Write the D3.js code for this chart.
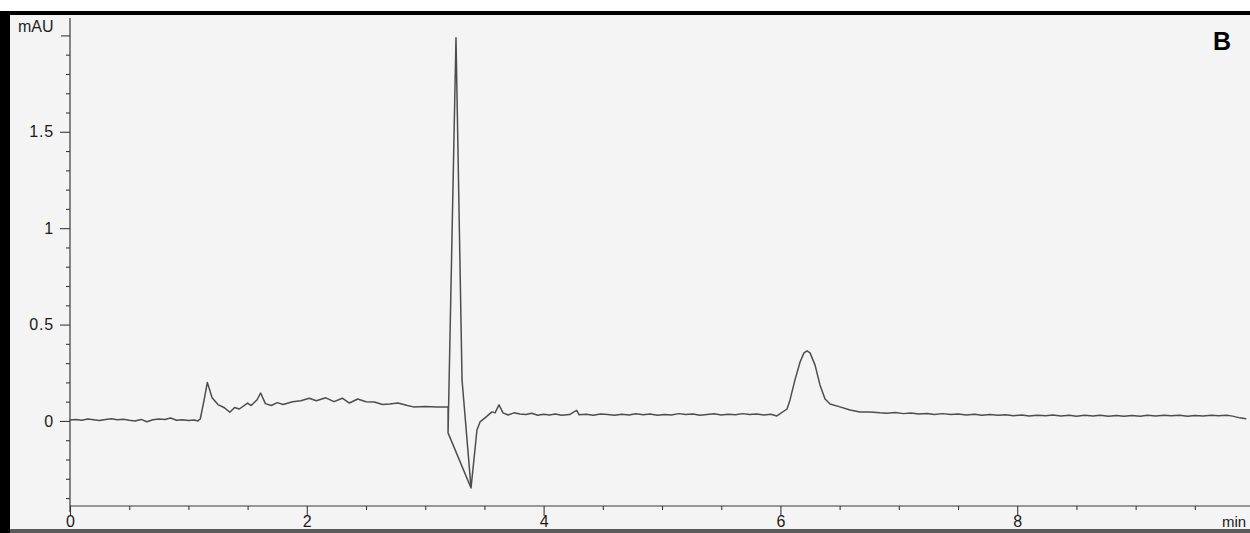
<!DOCTYPE html>
<html>
<head>
<meta charset="utf-8">
<script src="https://cdn.jsdelivr.net/npm/d3@7/dist/d3.min.js"></script>
<style>
  html, body { margin: 0; padding: 0; background: #ffffff; }
  svg { display: block; }
  text { font-family: "Liberation Sans", Arial, sans-serif; }
</style>
</head>
<body>
<svg id="chart" width="1250" height="533"></svg>
<script>
// ---- Data ----
const timeMin = [
  0.00,0.05,0.10,0.15,0.20,0.25,0.30,0.35,0.40,0.45,0.50,0.55,0.60,0.65,0.70,0.75,0.80,0.85,0.90,0.95,
  1.00,1.05,1.08,1.10,1.13,1.16,1.20,1.25,1.30,1.35,1.39,1.43,1.50,1.53,1.58,1.61,1.65,1.70,1.75,1.80,
  1.88,1.95,2.02,2.08,2.16,2.23,2.30,2.36,2.43,2.50,2.57,2.64,2.70,2.77,2.85,2.90,3.00,3.10,3.193,
  3.193,3.260,3.311,3.387,3.193,3.387,
  3.437,3.463,3.505,3.564,3.590,3.623,3.657,3.700,3.750,3.800,
  3.85,3.90,3.95,4.00,4.05,4.10,4.15,4.22,4.26,4.28,4.30,4.36,4.42,4.48,4.54,4.60,4.66,4.72,4.78,4.84,
  4.90,4.96,5.02,5.08,5.14,5.20,5.26,5.32,5.38,5.44,5.50,5.56,5.62,5.68,5.74,5.80,5.86,5.92,5.97,
  6.056,6.081,6.123,6.166,6.199,6.225,6.250,6.292,6.334,6.377,6.419,6.503,6.588,6.672,6.757,6.841,
  6.90,6.97,7.04,7.10,7.17,7.24,7.30,7.37,7.44,7.50,7.57,7.64,7.70,7.77,7.84,7.90,7.97,8.04,8.10,8.17,
  8.24,8.30,8.37,8.44,8.50,8.57,8.64,8.70,8.77,8.84,8.90,8.97,9.04,9.10,9.17,9.24,9.30,9.37,9.44,9.50,
  9.57,9.64,9.70,9.77,9.82,9.88,9.93
];
const absorbanceMAU = [
  0.005,0.008,0.004,0.010,0.006,0.002,0.008,0.011,0.006,0.009,0.004,0.000,0.008,-0.004,0.006,0.010,0.008,0.015,0.004,0.006,
  0.002,0.005,0.000,0.010,0.100,0.200,0.120,0.085,0.070,0.045,0.070,0.062,0.093,0.080,0.110,0.145,0.090,0.080,0.095,0.085,
  0.100,0.105,0.118,0.105,0.120,0.100,0.118,0.093,0.114,0.100,0.098,0.085,0.088,0.093,0.080,0.073,0.075,0.072,0.073,
  -0.062,1.988,0.213,-0.348,-0.062,-0.348,
  -0.047,-0.005,0.016,0.047,0.042,0.083,0.042,0.031,0.042,0.036,
  0.033,0.040,0.030,0.035,0.031,0.036,0.030,0.033,0.048,0.055,0.032,0.035,0.030,0.036,0.033,0.029,0.035,0.031,0.037,0.032,
  0.036,0.030,0.034,0.031,0.038,0.033,0.036,0.030,0.034,0.037,0.031,0.035,0.032,0.038,0.033,0.036,0.031,0.035,0.026,
  0.062,0.109,0.213,0.306,0.353,0.363,0.353,0.291,0.187,0.114,0.088,0.073,0.057,0.047,0.047,0.042,
  0.040,0.044,0.038,0.041,0.036,0.039,0.034,0.038,0.033,0.036,0.031,0.035,0.030,0.034,0.029,0.032,0.027,0.031,0.026,0.030,
  0.027,0.031,0.026,0.029,0.025,0.029,0.026,0.030,0.025,0.028,0.024,0.028,0.025,0.029,0.026,0.030,0.027,0.029,0.024,0.028,
  0.026,0.030,0.027,0.029,0.025,0.016,0.012
];
const xMajorTicks = [0, 2, 4, 6, 8];
const xMinorTicks = [0.5,1,1.5,2.5,3,3.5,4.5,5,5.5,6.5,7,7.5,8.5,9,9.5];
const yLabelTicks = [0, 0.5, 1, 1.5];
const yMajorUnlabeled = [2];
const yMinorTicks = [-0.4,-0.3,-0.2,-0.1,0.1,0.2,0.3,0.4,0.6,0.7,0.8,0.9,1.1,1.2,1.3,1.4,1.6,1.7,1.8,1.9];
const yUnit = "mAU";
const xUnit = "min";
const panelLabel = "B";

// ---- Layout ----
const svg = d3.select("#chart");
const W = 1250, H = 533;

// scanned page background and frame
svg.append("rect").attr("x", 0).attr("y", 0).attr("width", W).attr("height", H).attr("fill", "#ffffff");
svg.append("rect").attr("x", 10).attr("y", 15).attr("width", W - 10).attr("height", 514).attr("fill", "#f4f4f4");
svg.append("rect").attr("x", 0).attr("y", 11).attr("width", W).attr("height", 4).attr("fill", "#000");
svg.append("rect").attr("x", 0).attr("y", 11).attr("width", 10).attr("height", H - 11).attr("fill", "#000");
svg.append("rect").attr("x", 10).attr("y", 529).attr("width", W - 10).attr("height", 4).attr("fill", "#5a5a5a");

const x = d3.scaleLinear().domain([0, 9.966]).range([70, 1250]);
const y = d3.scaleLinear().domain([-0.436, 2.0]).range([505, 35.4]);

const axisColor = "#3a3a3a";
const labelFont = "16px";

// Y axis
const gy = svg.append("g").attr("transform", "translate(70,0)");
gy.append("line").attr("x1", 0).attr("x2", 0).attr("y1", 18).attr("y2", 512)
  .attr("stroke", axisColor).attr("stroke-width", 1.2);
const yMinor = svg.append("g").attr("transform", "translate(70,0)")
  .call(d3.axisLeft(y).tickValues(yMinorTicks).tickSize(4).tickFormat(""));
const yMaj2 = svg.append("g").attr("transform", "translate(70,0)")
  .call(d3.axisLeft(y).tickValues(yMajorUnlabeled).tickSize(9).tickFormat(""));
const yMajor = svg.append("g").attr("transform", "translate(70,0)")
  .call(d3.axisLeft(y).tickValues(yLabelTicks).tickSize(10).tickPadding(6)
    .tickFormat(d => d3.format("")(d)));
[yMinor, yMaj2, yMajor].forEach(g => {
  g.select(".domain").remove();
  g.selectAll(".tick line").attr("stroke", axisColor).attr("stroke-width", 1.1);
});
yMajor.selectAll(".tick text").attr("fill", "#1a1a1a").style("font-size", labelFont)
  .style("letter-spacing", "0.8px").attr("font-family", "Liberation Sans, Arial, sans-serif");

// X axis
svg.append("line").attr("x1", 70).attr("x2", W).attr("y1", 506).attr("y2", 506)
  .attr("stroke", axisColor).attr("stroke-width", 1.2);
const xMinor = svg.append("g").attr("transform", "translate(0,506)")
  .call(d3.axisBottom(x).tickValues(xMinorTicks).tickSize(4).tickFormat(""));
const xMajor = svg.append("g").attr("transform", "translate(0,506)")
  .call(d3.axisBottom(x).tickValues(xMajorTicks).tickSize(10).tickPadding(0)
    .tickFormat(d => d3.format("")(d)));
[xMinor, xMajor].forEach(g => {
  g.select(".domain").remove();
  g.selectAll(".tick line").attr("stroke", axisColor).attr("stroke-width", 1.1);
});
xMajor.selectAll(".tick text").attr("fill", "#1a1a1a").style("font-size", labelFont)
  .attr("font-family", "Liberation Sans, Arial, sans-serif");

// Units and panel label
svg.append("text").attr("x", 18).attr("y", 32).text(yUnit)
  .attr("fill", "#1f1f1f").style("font-size", labelFont);
svg.append("text").attr("x", 1222).attr("y", 527).text(xUnit)
  .attr("fill", "#1a1a1a").style("font-size", "15px");
svg.append("text").attr("x", 1213).attr("y", 50).text(panelLabel)
  .attr("fill", "#000").style("font-size", "25px").style("font-weight", "bold");

// Trace
const pts = timeMin.map((t, i) => [t, absorbanceMAU[i]]);
const line = d3.line().x(d => x(d[0])).y(d => y(d[1])).curve(d3.curveLinear);
svg.append("path").datum(pts).attr("d", line)
  .attr("fill", "none").attr("stroke", "#4d4d4d").attr("stroke-width", 1.5)
  .attr("stroke-linejoin", "round").attr("stroke-linecap", "round");
</script>
</body>
</html>
